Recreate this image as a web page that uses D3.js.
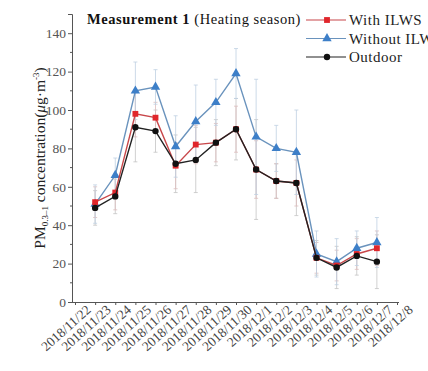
<!DOCTYPE html>
<html>
<head>
<meta charset="utf-8">
<script src="https://cdn.jsdelivr.net/npm/d3@7"></script>
<style>
  html, body { margin: 0; padding: 0; background: #fff; }
  svg { display: block; font-family: "Liberation Serif", "DejaVu Serif", serif; }
</style>
</head>
<body>
<div id="chart"></div>
<script>
// Daily PM0.3-1 concentration, measurement 1 (heating season)
const tickDates = ["2018/11/22", "2018/11/23", "2018/11/24", "2018/11/25", "2018/11/26",
  "2018/11/27", "2018/11/28", "2018/11/29", "2018/11/30", "2018/12/1", "2018/12/2",
  "2018/12/3", "2018/12/4", "2018/12/5", "2018/12/6", "2018/12/7", "2018/12/8"];
const sampleDates = tickDates.slice(1, 16);

const withILWS    = [52, 57, 98, 96, 71, 82, 83, 90, 69, 63, 62, 23, 19, 25, 28];
const withoutILWS = [51, 66, 110, 112, 81, 94, 104, 119, 86, 80, 78, 25, 21, 28, 31];
const outdoor     = [49, 55, 91, 89, 72, 74, 83, 90, 69, 63, 62, 23, 18, 24, 21];

const withSD    = [8, 9, 12, 8, 12, 10, 10, 12, 15, 9, 12, 8, 8, 8, 9];
const withoutSD = [10, 9, 15, 9, 16, 19, 12, 13, 30, 12, 22, 12, 12, 9, 13];
const outdoorSD = [9, 9, 18, 11, 15, 17, 12, 16, 26, 9, 17, 9, 11, 10, 14];

const yTicks = [0, 20, 40, 60, 80, 100, 120, 140];

const W = 428, H = 371;
const svg = d3.select("#chart").append("svg").attr("width", W).attr("height", H);

const x = d3.scalePoint().domain(tickDates).range([75, 397]);
const y = d3.scaleLinear().domain([0, 150]).range([302, 14]);
const axisColor = "#555";

// y axis with minor ticks
const yAxis = svg.append("g").attr("transform", "translate(72,0)")
  .call(d3.axisLeft(y).tickValues(yTicks).tickSize(4).tickPadding(2));
yAxis.select(".domain").attr("stroke", axisColor);
yAxis.selectAll(".tick line").attr("stroke", axisColor);
yAxis.selectAll("text").attr("font-size", 13.5).attr("fill", "#555")
  .attr("font-family", "Liberation Serif, serif");
svg.append("g").attr("transform", "translate(72,0)")
  .selectAll("line").data(d3.range(10, 150, 20)).join("line")
  .attr("x1", -2).attr("x2", 0).attr("y1", d => y(d)).attr("y2", d => y(d))
  .attr("stroke", axisColor);

// x axis
const xAxis = svg.append("g").attr("transform", "translate(0,302)")
  .call(d3.axisBottom(x).tickSize(3).tickSizeOuter(0));
xAxis.select(".domain").attr("d", "M72,0.5H399").attr("stroke", axisColor);
xAxis.selectAll(".tick line").attr("stroke", axisColor);
xAxis.selectAll(".tick text")
  .attr("font-size", 13.5).attr("fill", "#444")
  .attr("font-family", "Liberation Serif, serif")
  .attr("text-anchor", "end")
  .attr("transform", "translate(9,1) rotate(-42)")
  .attr("dy", "0.35em");

// y axis title
const yTitle = svg.append("text")
  .attr("transform", "translate(45,158) rotate(-90)")
  .attr("text-anchor", "middle")
  .attr("font-size", 15.5).attr("fill", "#222");
yTitle.append("tspan").text("PM");
yTitle.append("tspan").attr("font-size", 9).attr("dy", 3).text("0.3\u20131");
yTitle.append("tspan").attr("dy", -3).text(" concentration(");
yTitle.append("tspan").attr("font-style", "italic").text("\u03bc");
yTitle.append("tspan").text("g\u00b7m");
yTitle.append("tspan").attr("font-size", 9).attr("dy", -6).text("-3");
yTitle.append("tspan").attr("dy", 6).text(")");

// title
const title = svg.append("text").attr("x", 87).attr("y", 24)
  .attr("font-size", 14.5).attr("letter-spacing", 0.55).attr("fill", "#111");
title.append("tspan").attr("font-weight", "bold").text("Measurement 1");
title.append("tspan").text(" (Heating season)");

const series = [
  { name: "Outdoor",      values: outdoor,     sd: outdoorSD, color: "#111",    line: "#222",    marker: "circle" },
  { name: "With ILWS",    values: withILWS,    sd: withSD,    color: "#e0262b", line: "#c8474a", marker: "square" },
  { name: "Without ILWS", values: withoutILWS, sd: withoutSD, color: "#3d7fc8", line: "#6a93bd", marker: "triangle" }
];

// error bars
const errG = svg.append("g");
series.forEach((s, si) => {
  s.values.forEach((v, i) => {
    const cx = x(sampleDates[i]);
    const col = ["#c4c4c4", "#dcbcbc", "#bfd0e2"][si];
    errG.append("line").attr("x1", cx).attr("x2", cx)
      .attr("y1", y(v - s.sd[i])).attr("y2", y(v + s.sd[i]))
      .attr("stroke", col).attr("stroke-width", 0.8);
    [v - s.sd[i], v + s.sd[i]].forEach(e => {
      errG.append("line").attr("x1", cx - 2).attr("x2", cx + 2)
        .attr("y1", y(e)).attr("y2", y(e))
        .attr("stroke", col).attr("stroke-width", 0.8);
    });
  });
});

const symbolOf = m => m === "circle" ? d3.symbolCircle : m === "square" ? d3.symbolSquare : d3.symbolTriangle;
const sizeOf = m => m === "circle" ? 32 : m === "square" ? 34 : 38;

const line = d3.line().x((d, i) => x(sampleDates[i])).y(d => y(d));
// draw order: without, with, outdoor (outdoor on top)
[series[2], series[1], series[0]].forEach(s => {
  svg.append("path").datum(s.values).attr("d", line)
    .attr("fill", "none").attr("stroke", s.line).attr("stroke-width", 1.4);
  svg.append("g").selectAll("path").data(s.values).join("path")
    .attr("transform", (d, i) => `translate(${x(sampleDates[i])},${y(d)})`)
    .attr("d", d3.symbol().type(symbolOf(s.marker)).size(sizeOf(s.marker)))
    .attr("fill", s.color);
});

// legend
const legendOrder = [series[1], series[2], series[0]];
const lg = svg.append("g").attr("transform", "translate(306,20)");
legendOrder.forEach((s, i) => {
  const g = lg.append("g").attr("transform", `translate(0,${i * 18.5})`);
  g.append("line").attr("x1", 0).attr("x2", 40).attr("y1", 0).attr("y2", 0)
    .attr("stroke", s.line).attr("stroke-width", 1.2);
  g.append("path").attr("transform", "translate(21,0)")
    .attr("d", d3.symbol().type(symbolOf(s.marker)).size(sizeOf(s.marker))())
    .attr("fill", s.color);
  g.append("text").attr("x", 43).attr("y", 5)
    .attr("font-size", 15).attr("letter-spacing", 0.5)
    .attr("fill", "#222").text(s.name);
});
</script>
</body>
</html>
